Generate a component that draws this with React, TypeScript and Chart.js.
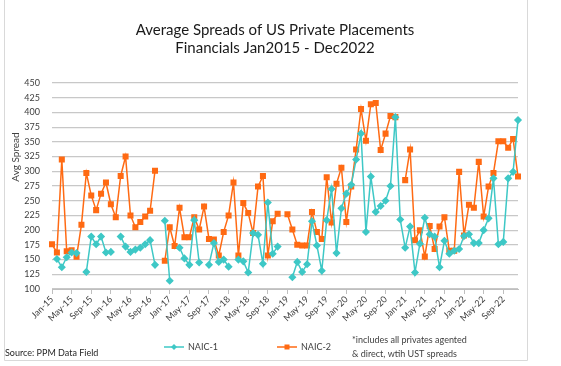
import React, { useEffect, useRef } from 'react';
import { Chart, registerables } from 'chart.js';
Chart.register(...registerables);

const MONTHS = ['Jan', 'Feb', 'Mar', 'Apr', 'May', 'Jun', 'Jul', 'Aug', 'Sep', 'Oct', 'Nov', 'Dec'];
const YEARS = ['15', '16', '17', '18', '19', '20', '21', '22'];
const categories: string[] = YEARS.flatMap((y) => MONTHS.map((m) => `${m}-${y}`));

const naic1: (number | null)[] = [
  null, 151, 137, 154, 162, 161, null, 129, 189, 176, 189, 162,
  163, null, 189, 172, 163, 167, 170, 176, 183, 141, null, 216,
  114, null, 170, 152, 141, 217, 145, null, 141, 178, 146, 150,
  138, null, 150, 147, 128, 195, 192, 143, 247, 160, 172, null,
  null, 120, 146, 129, 142, 215, 174, 131, 217, 270, 161, 237,
  262, 277, 320, 364, 197, 291, 231, 241, 250, 275, 392, 218,
  170, 206, 128, 177, 221, 193, 189, 137, 182, 160, 165, 168,
  190, 193, 178, 178, 200, 220, 288, 176, 180, 288, 299, 387,
];

const naic2: (number | null)[] = [
  176, 162, 320, 164, 166, 155, 209, 297, 259, 234, 262, 281,
  244, 222, 292, 325, 225, 205, 214, 223, 233, 301, null, 148,
  205, 173, 238, 188, 188, 222, 201, 240, 185, 184, 157, 197,
  225, 281, 157, 246, 229, 195, 274, 292, 157, 215, 228, null,
  227, 201, 175, 174, 174, 231, 197, 185, 290, 213, 279, 306,
  214, 274, 337, 406, 352, 414, 416, 336, 364, 394, 392, null,
  285, 337, 183, 200, 155, 207, 168, 206, 222, 165, 165, 299,
  191, 243, 238, 316, 223, 274, 297, 351, 351, 340, 355, 291,
];

const Y_MIN = 100;
const Y_MAX = 450;
const Y_STEP = 25;

const titleLines = ['Average Spreads of US Private Placements', 'Financials Jan2015 - Dec2022'];
const yTitle = 'Avg Spread';
const seriesNames = ['NAIC-1', 'NAIC-2'];
const sourceText = 'Source: PPM Data Field';
const noteLines = ['*includes all privates agented', '& direct, wtih UST spreads'];

const TEAL = '#3ec8c6';
const ORANGE = '#ff6a13';
const FONT = 'Lato, "Open Sans", sans-serif';
const TEXT = '#404040';

export default function App() {
  const ref = useRef<HTMLCanvasElement>(null);
  useEffect(() => {
    if (!ref.current) return;
    const overlay = {
      id: 'overlay',
      afterDraw(chart: any) {
        const ctx = chart.ctx as CanvasRenderingContext2D;
        ctx.save();
        // border
        ctx.strokeStyle = '#d9d9d9';
        ctx.lineWidth = 1;
        ctx.beginPath();
        ctx.moveTo(4.5, 0);
        ctx.lineTo(4.5, 360.5);
        ctx.lineTo(527.5, 360.5);
        ctx.lineTo(527.5, 0);
        ctx.stroke();
        // title
        ctx.fillStyle = '#1a1a1a';
        ctx.font = `15px ${FONT}`;
        ctx.textAlign = 'center';
        ctx.textBaseline = 'middle';
        ctx.fillText(titleLines[0], 275, 30);
        ctx.fillText(titleLines[1], 275, 48);
        // y title
        ctx.save();
        ctx.translate(16, 157);
        ctx.rotate(-Math.PI / 2);
        ctx.font = `10px ${FONT}`;
        ctx.fillStyle = TEXT;
        ctx.fillText(yTitle, 0, 0);
        ctx.restore();
        // legend
        const legendY = 347;
        const items = [
          { x: 164, color: TEAL, style: 'diamond', name: seriesNames[0] },
          { x: 277, color: ORANGE, style: 'square', name: seriesNames[1] },
        ];
        items.forEach((it) => {
          ctx.strokeStyle = it.color;
          ctx.lineWidth = 1.5;
          ctx.beginPath();
          ctx.moveTo(it.x, legendY);
          ctx.lineTo(it.x + 20, legendY);
          ctx.stroke();
          ctx.fillStyle = it.color;
          const cx = it.x + 10;
          if (it.style === 'diamond') {
            ctx.beginPath();
            ctx.moveTo(cx, legendY - 3);
            ctx.lineTo(cx + 3, legendY);
            ctx.lineTo(cx, legendY + 3);
            ctx.lineTo(cx - 3, legendY);
            ctx.closePath();
            ctx.fill();
          } else {
            ctx.fillRect(cx - 2.5, legendY - 2.5, 5, 5);
          }
          ctx.fillStyle = TEXT;
          ctx.font = `9px ${FONT}`;
          ctx.textAlign = 'left';
          ctx.textBaseline = 'middle';
          ctx.fillText(it.name, it.x + 24, legendY);
        });
        // source
        ctx.fillStyle = '#262626';
        ctx.font = `9px ${FONT}`;
        ctx.textAlign = 'left';
        ctx.fillText(sourceText, 5, 353);
        // note
        ctx.fillStyle = TEXT;
        ctx.fillText(noteLines[0], 352, 340);
        ctx.fillText(noteLines[1], 352, 354);
        ctx.restore();
      },
    };
    const chart = new Chart(ref.current, {
      type: 'line',
      data: {
        labels: categories,
        datasets: [
          {
            label: seriesNames[0],
            data: naic1,
            borderColor: TEAL,
            backgroundColor: TEAL,
            pointStyle: 'rectRot',
            pointRadius: 3,
            borderWidth: 1.5,
            spanGaps: false,
          },
          {
            label: seriesNames[1],
            data: naic2,
            borderColor: ORANGE,
            backgroundColor: ORANGE,
            pointStyle: 'rect',
            pointRadius: 3.2,
            borderWidth: 1.5,
            spanGaps: false,
          },
        ],
      },
      options: {
        animation: false,
        responsive: false,
        layout: { padding: { top: 83, right: 43, left: 0, bottom: 0 } },
        plugins: { legend: { display: false }, tooltip: { enabled: false }, title: { display: false } },
        scales: {
          x: {
            offset: false,
            grid: { drawOnChartArea: false, color: '#bfbfbf', tickLength: 5 },
            border: { color: '#bfbfbf' },
            ticks: {
              autoSkip: false,
              maxRotation: 45,
              minRotation: 45,
              padding: 0,
              color: TEXT,
              font: { size: 9, family: FONT },
              callback: (_v: any, i: number) => (i % 4 === 0 ? categories[i] : null),
            },
            afterFit: (s: any) => {
              s.height = 77;
            },
          },
          y: {
            min: Y_MIN,
            max: Y_MAX,
            ticks: { stepSize: Y_STEP, padding: 12, color: TEXT, font: { size: 9, family: FONT } },
            grid: { color: '#c8c8c8', lineWidth: 1.2, drawTicks: false },
            border: { display: false },
            afterFit: (s: any) => {
              s.width = 52;
            },
          },
        },
      },
      plugins: [overlay],
    } as any);
    return () => chart.destroy();
  }, []);
  return (
    <div style={{ position: 'fixed', left: 0, top: 0, width: 561, height: 366, background: '#fff' }}>
      <canvas ref={ref} width={561} height={366} style={{ display: 'block' }} />
    </div>
  );
}
